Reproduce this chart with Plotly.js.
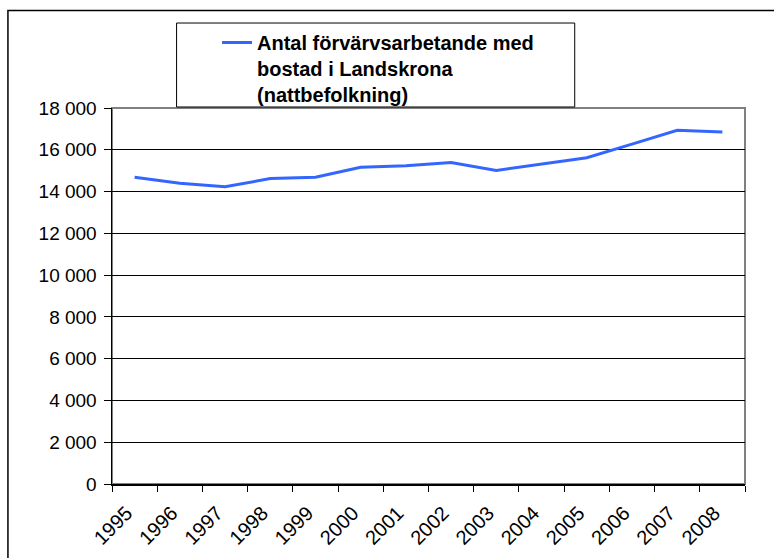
<!DOCTYPE html>
<html>
<head>
<meta charset="utf-8">
<script src="https://cdn.plot.ly/plotly-3.0.1.min.js"></script>
<style>
  html, body { margin: 0; padding: 0; background: #ffffff; }
  #chart { width: 774px; height: 558px; }
</style>
</head>
<body>
<div id="chart"></div>
<script>
const years = ['1995','1996','1997','1998','1999','2000','2001','2002','2003','2004','2005','2006','2007','2008'];
const employed = [14680, 14400, 14230, 14620, 14690, 15160, 15240, 15390, 15010, 15330, 15620, 16270, 16930, 16850];
const seriesName = 'Antal förvärvsarbetande med<br>bostad i Landskrona<br>(nattbefolkning)';
const yTicks = [0, 2000, 4000, 6000, 8000, 10000, 12000, 14000, 16000, 18000];

const trace = {
  x: years,
  y: employed,
  type: 'scatter',
  mode: 'lines',
  name: seriesName,
  line: { color: 'rgb(51,102,255)', width: 3 },
  hoverinfo: 'x+y'
};

const layout = {
  width: 774,
  height: 558,
  paper_bgcolor: '#ffffff',
  plot_bgcolor: '#ffffff',
  separators: ', ',
  margin: { l: 112, r: 29, t: 108, b: 74, pad: 0, autoexpand: false },
  font: { family: 'Liberation Sans, Arial, sans-serif', size: 19, color: '#000000' },
  showlegend: true,
  legend: {
    xref: 'container', yref: 'container',
    x: 0.2804, y: 0.9588, xanchor: 'left', yanchor: 'top',
    valign: 'top',
    bgcolor: 'rgba(0,0,0,0)',
    borderwidth: 0,
    font: { family: 'Liberation Sans, Arial, sans-serif', size: 20, color: '#000000', weight: 'bold' }
  },
  xaxis: {
    type: 'category',
    range: [-0.5, 13.5],
    tickmode: 'array',
    tickvals: years,
    ticktext: years,
    tickson: 'boundaries',
    ticks: 'outside',
    ticklen: 6,
    tickcolor: '#000000',
    tickwidth: 1,
    tickangle: -45,
    ticklabelstandoff: 8,
    ticklabelshift: -8,
    showgrid: false,
    showline: true,
    linecolor: '#000000',
    linewidth: 1.5,
    zeroline: false,
    tickfont: { size: 20 },
    automargin: false,
    fixedrange: true
  },
  yaxis: {
    range: [0, 18000],
    tickvals: yTicks,
    tickformat: ',d',
    ticks: 'outside',
    ticklen: 7,
    tickcolor: '#000000',
    ticklabelstandoff: 3,
    showgrid: true,
    gridcolor: '#000000',
    gridwidth: 1,
    showline: true,
    linecolor: '#000000',
    linewidth: 1.5,
    zeroline: false,
    tickfont: { size: 19 },
    automargin: false,
    fixedrange: true
  },
  shapes: [
    { type: 'rect', xref: 'paper', yref: 'paper', x0: 0, x1: 1, y0: 0, y1: 1,
      line: { color: '#808080', width: 2 }, layer: 'below' },
    { type: 'rect', xref: 'paper', yref: 'paper', x0: 0.102, x1: 0.731, y0: 1.0027, y1: 1.226,
      line: { color: '#000000', width: 1 }, fillcolor: 'rgba(0,0,0,0)', layer: 'above' },
    { type: 'rect', xref: 'paper', yref: 'paper', x0: -0.1644, x1: 1.2, y0: -0.5, y1: 1.2593,
      line: { color: '#000000', width: 1.5 }, layer: 'below' }
  ]
};

Plotly.newPlot('chart', [trace], layout, { displayModeBar: false, staticPlot: true });
</script>
</body>
</html>
